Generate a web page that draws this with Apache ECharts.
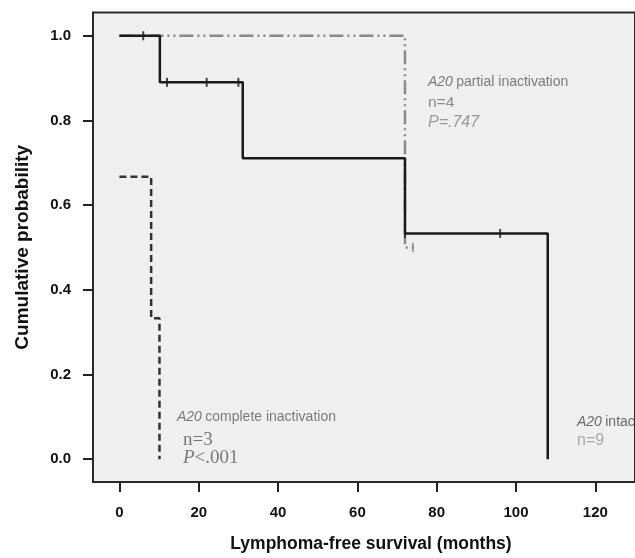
<!DOCTYPE html>
<html>
<head>
<meta charset="utf-8">
<script src="https://cdn.jsdelivr.net/npm/echarts@6/dist/echarts.min.js"></script>
<style>html,body{margin:0;padding:0;background:#fff;}#c{width:635px;height:558px;}</style>
</head>
<body>
<div id="c"></div>
<script>
// Tick labels
const xTicks = [0, 20, 40, 60, 80, 100, 120];
const yTicks = [0, 0.2, 0.4, 0.6, 0.8, 1.0];

// A20 intact (n=9)
const intactT = [0, 10.2, 31.1, 72, 108];
const intactS = [1.0, 0.89, 0.711, 0.533, 0];
const intactCensT = [6, 12, 22, 30, 72, 96];
const intactCensS = [1.0, 0.89, 0.89, 0.89, 0.533, 0.533];

// A20 partial inactivation (n=4)
const partialT = [0, 72, 75];
const partialS = [1.0, 0.5, 0.5];
const partialCensT = [74];
const partialCensS = [0.5];

// A20 complete inactivation (n=3)
const completeT = [0, 8, 10.1];
const completeS = [0.667, 0.333, 0];

const zip = (a, b) => a.map((v, i) => [v, b[i]]);

const chart = echarts.init(document.getElementById('c'), null, {renderer: 'canvas'});
const FONT = 'Liberation Sans, Arial, sans-serif';
const SERIF = 'Liberation Serif, Times New Roman, serif';

chart.setOption({
  animation: false,
  backgroundColor: '#ffffff',
  grid: {
    left: 93, top: 12.5, width: 566, height: 472.5,
    show: true, backgroundColor: '#efefef', borderColor: '#2a2a2a', borderWidth: 2
  },
  xAxis: {
    type: 'value', min: -6.66, max: 130,
    name: 'Lymphoma-free survival (months)', nameLocation: 'middle', nameGap: 53,
    nameTextStyle: {fontFamily: FONT, fontWeight: 'bold', fontSize: 17.5, color: '#111', padding: [0, 0, 0, 14]},
    axisLine: {show: false, onZero: false},
    axisTick: {show: true, customValues: xTicks, length: 10, lineStyle: {color: '#222', width: 2}},
    axisLabel: {customValues: xTicks, margin: 23, fontFamily: FONT, fontWeight: 'bold', fontSize: 15, color: '#111'},
    splitLine: {show: false}
  },
  yAxis: {
    type: 'value', min: -0.054, max: 1.055,
    name: 'Cumulative probability', nameLocation: 'middle', nameGap: 61,
    nameTextStyle: {fontFamily: FONT, fontWeight: 'bold', fontSize: 19, color: '#111'},
    axisLine: {show: false, onZero: false},
    axisTick: {show: true, customValues: yTicks, length: 10, lineStyle: {color: '#222', width: 2}},
    axisLabel: {customValues: yTicks, margin: 22, fontFamily: FONT, fontWeight: 'bold', fontSize: 15, color: '#111',
      formatter: v => v.toFixed(1)},
    splitLine: {show: false}
  },
  series: [
    {
      name: 'partial', type: 'line', step: 'end', data: zip(partialT, partialS),
      showSymbol: false, z: 2,
      lineStyle: {color: '#8a8a8a', width: 2.5, type: [14, 4, 2, 4, 2, 4]}
    },
    {
      name: 'complete', type: 'line', step: 'end', data: zip(completeT, completeS),
      showSymbol: false, z: 3,
      lineStyle: {color: '#333', width: 2.5, type: [7, 4]}
    },
    {
      name: 'intact', type: 'line', step: 'end', data: zip(intactT, intactS),
      showSymbol: false, z: 4,
      lineStyle: {color: '#1a1a1a', width: 2.5, type: 'solid'}
    },
    {
      name: 'intactCens', type: 'scatter', data: zip(intactCensT, intactCensS),
      symbol: 'rect', symbolSize: [2, 9], z: 5,
      itemStyle: {color: '#1a1a1a'}
    },
    {
      name: 'partialCens', type: 'scatter', data: zip(partialCensT, partialCensS),
      symbol: 'rect', symbolSize: [2, 9], z: 5,
      itemStyle: {color: '#8a8a8a'}
    }
  ],
  graphic: [
    {type: 'text', left: 428, top: 75.5, style: {
      text: '{i|A20} {n|partial inactivation}', rich: {
        i: {fontFamily: FONT, fontStyle: 'italic', fontSize: 14, fill: '#7a7a7a'},
        n: {fontFamily: FONT, fontSize: 14, fill: '#7a7a7a'}}}},
    {type: 'text', left: 428, top: 95, style: {text: 'n=4', fontFamily: FONT, fontSize: 15.5, fill: '#8a8a8a'}},
    {type: 'text', left: 428, top: 114.5, style: {text: 'P=.747', fontFamily: FONT, fontStyle: 'italic', fontSize: 16, fill: '#999'}},

    {type: 'text', left: 177, top: 410, style: {
      text: '{i|A20} {n|complete inactivation}', rich: {
        i: {fontFamily: FONT, fontStyle: 'italic', fontSize: 14, fill: '#7a7a7a'},
        n: {fontFamily: FONT, fontSize: 14, fill: '#7a7a7a'}}}},
    {type: 'text', left: 183, top: 431, style: {text: 'n=3', fontFamily: SERIF, fontSize: 19, fill: '#777'}},
    {type: 'text', left: 183, top: 448.5, style: {
      text: '{i|P}{n|<.001}', rich: {
        i: {fontFamily: SERIF, fontStyle: 'italic', fontSize: 19, fill: '#777'},
        n: {fontFamily: SERIF, fontSize: 19, fill: '#777'}}}},

    {type: 'text', left: 577, top: 415.5, style: {
      text: '{i|A20} {n|intact}', rich: {
        i: {fontFamily: FONT, fontStyle: 'italic', fontSize: 14, fill: '#6a6a6a'},
        n: {fontFamily: FONT, fontSize: 14, fill: '#6a6a6a'}}}},
    {type: 'text', left: 577, top: 433, style: {text: 'n=9', fontFamily: FONT, fontSize: 16, fill: '#aaa'}}
  ]
});
</script>
</body>
</html>
